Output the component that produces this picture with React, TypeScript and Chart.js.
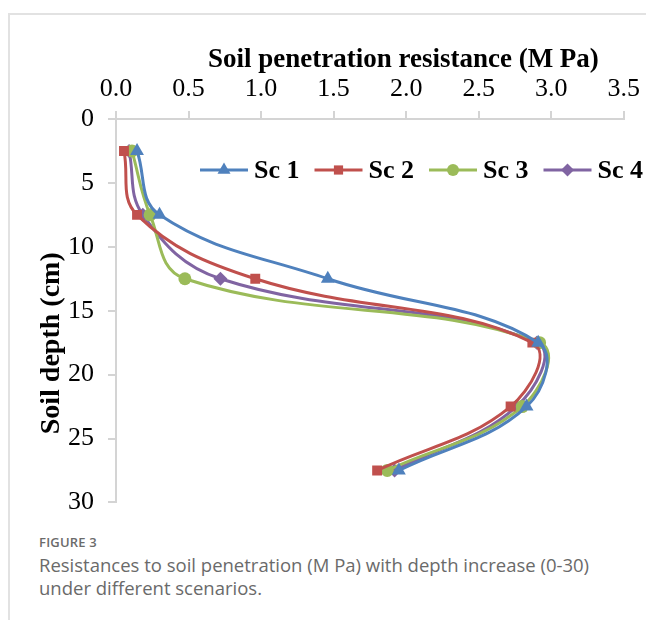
import React, { useEffect, useRef } from "react";
import { Chart, registerables } from "chart.js";

Chart.register(...registerables);

const depths = [2.5, 7.5, 12.5, 17.5, 22.5, 27.5];
const sc1 = [0.145, 0.3, 1.46, 2.91, 2.83, 1.95];
const sc2 = [0.055, 0.145, 0.96, 2.87, 2.72, 1.8];
const sc3 = [0.11, 0.235, 0.475, 2.92, 2.8, 1.87];
const sc4 = [0.09, 0.185, 0.72, 2.9, 2.76, 1.92];

const seriesNames = ["Sc 1", "Sc 2", "Sc 3", "Sc 4"];
const seriesColors = ["#4F81BD", "#C0504D", "#9BBB59", "#8064A2"];
const seriesStyles = ["triangle", "rect", "circle", "rectRot"];
const seriesRadius = [8, 7, 6.5, 7];
const xTicks = [0, 0.5, 1, 1.5, 2, 2.5, 3, 3.5];
const yTicks = [0, 5, 10, 15, 20, 25, 30];

const xTitle = "Soil penetration resistance (M Pa)";
const yTitle = "Soil depth (cm)";

const SERIF = "'Liberation Serif', 'Times New Roman', serif";

function drawMarker(ctx: CanvasRenderingContext2D, style: string, x: number, y: number, r: number, color: string) {
  ctx.save();
  ctx.fillStyle = color;
  ctx.beginPath();
  if (style === "triangle") {
    for (let k = 0; k < 3; k++) {
      const a = (k * 2 * Math.PI) / 3;
      const px = x + Math.sin(a) * r;
      const py = y - Math.cos(a) * r;
      if (k === 0) ctx.moveTo(px, py);
      else ctx.lineTo(px, py);
    }
    ctx.closePath();
  } else if (style === "rect") {
    const s = Math.SQRT1_2 * r;
    ctx.rect(x - s, y - s, 2 * s, 2 * s);
  } else if (style === "circle") {
    ctx.arc(x, y, r, 0, Math.PI * 2);
  } else {
    ctx.moveTo(x, y - r);
    ctx.lineTo(x + r, y);
    ctx.lineTo(x, y + r);
    ctx.lineTo(x - r, y);
    ctx.closePath();
  }
  ctx.fill();
  ctx.restore();
}

const decorPlugin = {
  id: "decor",
  afterDraw(chart: any) {
    const { ctx, chartArea } = chart;
    const w = chartArea.right - chartArea.left;
    const h = chartArea.bottom - chartArea.top;
    ctx.save();
    ctx.fillStyle = "#000";
    ctx.font = `bold 27px ${SERIF}`;
    ctx.textAlign = "center";
    ctx.textBaseline = "alphabetic";
    ctx.fillText(xTitle, chartArea.left + 0.566 * w, chartArea.top - 52);
    ctx.save();
    ctx.translate(chartArea.left - 64, chartArea.top + 0.585 * h);
    ctx.rotate(-Math.PI / 2);
    ctx.textBaseline = "middle";
    ctx.font = `bold 28px ${SERIF}`;
    ctx.fillText(yTitle, 0, 0);
    ctx.restore();

    // legend
    let x = chartArea.left + 84;
    const y = chartArea.top + 51;
    ctx.font = `bold 26px ${SERIF}`;
    ctx.textAlign = "left";
    ctx.textBaseline = "middle";
    for (let i = 0; i < seriesNames.length; i++) {
      ctx.strokeStyle = seriesColors[i];
      ctx.lineWidth = 3;
      ctx.beginPath();
      ctx.moveTo(x, y);
      ctx.lineTo(x + 48, y);
      ctx.stroke();
      drawMarker(ctx, seriesStyles[i], x + 24, y, seriesRadius[i] - 0.5, seriesColors[i]);
      x += 54;
      ctx.fillStyle = "#000";
      ctx.fillText(seriesNames[i], x, y + 1);
      x += ctx.measureText(seriesNames[i]).width + 15;
    }
    ctx.restore();
  },
};

function ChartView() {
  const ref = useRef<HTMLCanvasElement | null>(null);
  useEffect(() => {
    if (!ref.current) return;
    const all = [sc1, sc2, sc3, sc4];
    const chart = new Chart(ref.current, {
      type: "scatter",
      data: {
        datasets: all.map((vals, i) => ({
          label: seriesNames[i],
          data: vals.map((v, j) => ({ x: v, y: depths[j] })),
          showLine: true,
          borderColor: seriesColors[i],
          backgroundColor: seriesColors[i],
          borderWidth: 3,
          tension: 0.4,
          pointStyle: seriesStyles[i] as any,
          pointRadius: seriesRadius[i],
          pointBorderWidth: 0,
          pointBackgroundColor: seriesColors[i],
        })),
      },
      options: {
        animation: false,
        responsive: false,
        maintainAspectRatio: false,
        layout: { padding: { left: 0, top: 0, right: 22, bottom: 6 } },
        plugins: { legend: { display: false }, tooltip: { enabled: false } },
        scales: {
          x: {
            type: "linear",
            position: "top",
            min: 0,
            max: 3.5,
            afterBuildTicks: (s: any) => {
              s.ticks = xTicks.map((v) => ({ value: v }));
            },
            afterFit: (s: any) => {
              s.height = 89;
            },
            ticks: {
              color: "#000",
              font: { family: SERIF, size: 26 },
              padding: 6,
              callback: (v: any) => Number(v).toFixed(1),
            },
            grid: {
              drawOnChartArea: false,
              drawTicks: true,
              tickLength: 8,
              color: "#d4d4d4",
              lineWidth: 2,
            },
            border: { color: "#d4d4d4", width: 2 },
          },
          y: {
            type: "linear",
            reverse: true,
            min: 0,
            max: 30,
            afterBuildTicks: (s: any) => {
              s.ticks = yTicks.map((v) => ({ value: v }));
            },
            afterFit: (s: any) => {
              s.width = 96;
            },
            ticks: {
              color: "#000",
              font: { family: SERIF, size: 26 },
              padding: 14,
            },
            grid: {
              drawOnChartArea: false,
              drawTicks: true,
              tickLength: 8,
              color: "#d4d4d4",
              lineWidth: 2,
            },
            border: { color: "#d4d4d4", width: 2 },
          },
        },
      },
      plugins: [decorPlugin],
    } as any);
    return () => chart.destroy();
  }, []);
  return <canvas ref={ref} width={626} height={502} style={{ width: 626, height: 502, display: "block" }} />;
}

export default function App() {
  return (
    <div style={{ position: "absolute", left: 0, top: 0, width: 646, height: 620, overflow: "hidden" }}>
      <div
        style={{
          position: "absolute",
          left: 8,
          top: 13,
          width: 638,
          height: 607,
          borderTop: "2px solid #e2e2e2",
          borderLeft: "2px solid #e2e2e2",
          boxSizing: "border-box",
        }}
      />
      <div style={{ position: "absolute", left: 20, top: 30 }}>
        <ChartView />
      </div>
      <div
        style={{
          position: "absolute",
          left: 39,
          top: 534,
          fontFamily: "'Open Sans', sans-serif",
          fontWeight: 600,
          fontSize: 13,
          lineHeight: "16px",
          color: "#6b6b6b",
          letterSpacing: 0.2,
        }}
      >
        FIGURE 3
      </div>
      <div
        style={{
          position: "absolute",
          left: 39,
          top: 553,
          width: 607,
          fontFamily: "'Open Sans', sans-serif",
          fontWeight: 400,
          fontSize: 18.5,
          lineHeight: "23px",
          color: "#6a6a6a",
          whiteSpace: "nowrap",
        }}
      >
        Resistances to soil penetration (M Pa) with depth increase (0-30)
        <br />
        under different scenarios.
      </div>
    </div>
  );
}
